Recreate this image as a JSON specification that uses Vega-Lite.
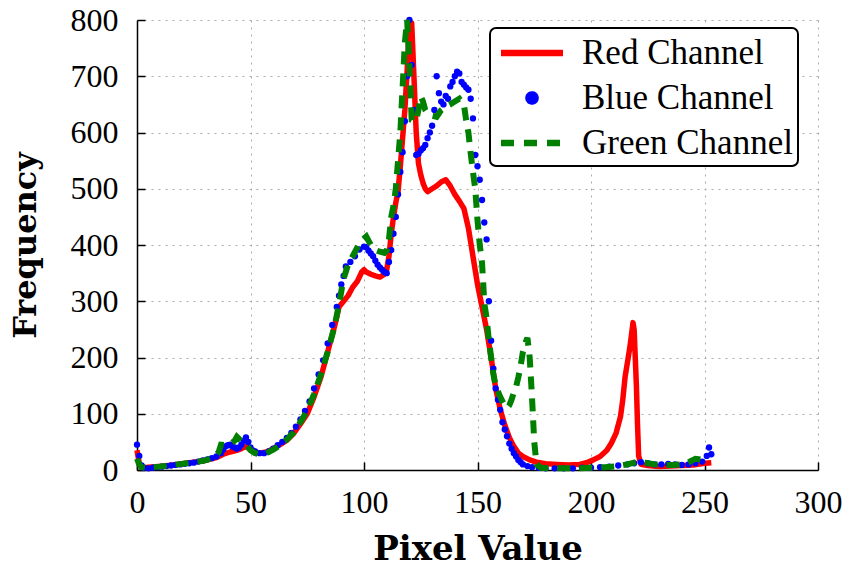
{
"$schema": "https://vega.github.io/schema/vega-lite/v6.json",
"width": 681, "height": 450,
"autosize": {"type": "none"},
"padding": {"left": 137, "top": 20, "right": 31, "bottom": 97},
"background": "white",
"config": {
  "view": {"stroke": null},
  "axis": {"domainColor": "black", "domainWidth": 1.5, "tickColor": "black", "tickWidth": 1.5, "tickSize": -8, "labelFlush": false,
    "labelFont": "Liberation Serif", "labelFontSize": 32, "labelColor": "black",
    "titleFont": "DejaVu Serif", "titleFontWeight": "bold", "titleColor": "black",
    "gridColor": "#aaaaaa", "gridDash": [2, 5], "gridWidth": 1}
},
"data": {"values": [
{"c":"Red Channel","x":0,"y":35},{"c":"Red Channel","x":1,"y":12},{"c":"Red Channel","x":2,"y":5},{"c":"Red Channel","x":3,"y":4},{"c":"Red Channel","x":5,"y":5},{"c":"Red Channel","x":8,"y":6},{"c":"Red Channel","x":12,"y":7},{"c":"Red Channel","x":16,"y":9},{"c":"Red Channel","x":20,"y":11},{"c":"Red Channel","x":25,"y":14},{"c":"Red Channel","x":30,"y":17},{"c":"Red Channel","x":35,"y":22},{"c":"Red Channel","x":38,"y":28},{"c":"Red Channel","x":41,"y":32},{"c":"Red Channel","x":44,"y":35},{"c":"Red Channel","x":46,"y":38},{"c":"Red Channel","x":48,"y":42},{"c":"Red Channel","x":50,"y":36},{"c":"Red Channel","x":52,"y":32},{"c":"Red Channel","x":54,"y":30},{"c":"Red Channel","x":57,"y":32},{"c":"Red Channel","x":60,"y":38},{"c":"Red Channel","x":63,"y":45},{"c":"Red Channel","x":66,"y":53},{"c":"Red Channel","x":69,"y":65},{"c":"Red Channel","x":72,"y":82},{"c":"Red Channel","x":75,"y":100},{"c":"Red Channel","x":78,"y":130},{"c":"Red Channel","x":81,"y":165},{"c":"Red Channel","x":84,"y":210},{"c":"Red Channel","x":87,"y":255},{"c":"Red Channel","x":89,"y":290},{"c":"Red Channel","x":91,"y":300},{"c":"Red Channel","x":93,"y":310},{"c":"Red Channel","x":95,"y":325},{"c":"Red Channel","x":97,"y":335},{"c":"Red Channel","x":99,"y":352},{"c":"Red Channel","x":100,"y":356},{"c":"Red Channel","x":101,"y":352},{"c":"Red Channel","x":103,"y":348},{"c":"Red Channel","x":105,"y":345},{"c":"Red Channel","x":107,"y":343},{"c":"Red Channel","x":109,"y":348},{"c":"Red Channel","x":110,"y":356},{"c":"Red Channel","x":111,"y":380},{"c":"Red Channel","x":112,"y":420},{"c":"Red Channel","x":113,"y":450},{"c":"Red Channel","x":114,"y":475},{"c":"Red Channel","x":115,"y":495},{"c":"Red Channel","x":116,"y":540},{"c":"Red Channel","x":117,"y":590},{"c":"Red Channel","x":118,"y":640},{"c":"Red Channel","x":119,"y":710},{"c":"Red Channel","x":120,"y":790},{"c":"Red Channel","x":121,"y":795},{"c":"Red Channel","x":122,"y":700},{"c":"Red Channel","x":123,"y":600},{"c":"Red Channel","x":124,"y":545},{"c":"Red Channel","x":125,"y":525},{"c":"Red Channel","x":126,"y":510},{"c":"Red Channel","x":127,"y":500},{"c":"Red Channel","x":128,"y":495},{"c":"Red Channel","x":130,"y":500},{"c":"Red Channel","x":132,"y":505},{"c":"Red Channel","x":134,"y":512},{"c":"Red Channel","x":136,"y":516},{"c":"Red Channel","x":138,"y":505},{"c":"Red Channel","x":140,"y":490},{"c":"Red Channel","x":142,"y":478},{"c":"Red Channel","x":144,"y":465},{"c":"Red Channel","x":146,"y":430},{"c":"Red Channel","x":148,"y":380},{"c":"Red Channel","x":150,"y":330},{"c":"Red Channel","x":152,"y":290},{"c":"Red Channel","x":154,"y":250},{"c":"Red Channel","x":156,"y":200},{"c":"Red Channel","x":158,"y":145},{"c":"Red Channel","x":160,"y":108},{"c":"Red Channel","x":162,"y":80},{"c":"Red Channel","x":164,"y":58},{"c":"Red Channel","x":166,"y":42},{"c":"Red Channel","x":168,"y":30},{"c":"Red Channel","x":170,"y":24},{"c":"Red Channel","x":173,"y":18},{"c":"Red Channel","x":176,"y":14},{"c":"Red Channel","x":180,"y":11},{"c":"Red Channel","x":185,"y":10},{"c":"Red Channel","x":190,"y":9},{"c":"Red Channel","x":195,"y":10},{"c":"Red Channel","x":198,"y":13},{"c":"Red Channel","x":201,"y":18},{"c":"Red Channel","x":204,"y":24},{"c":"Red Channel","x":207,"y":35},{"c":"Red Channel","x":209,"y":48},{"c":"Red Channel","x":211,"y":65},{"c":"Red Channel","x":213,"y":95},{"c":"Red Channel","x":214,"y":125},{"c":"Red Channel","x":215,"y":165},{"c":"Red Channel","x":216,"y":190},{"c":"Red Channel","x":217,"y":215},{"c":"Red Channel","x":218,"y":245},{"c":"Red Channel","x":218.5,"y":262},{"c":"Red Channel","x":219,"y":250},{"c":"Red Channel","x":219.5,"y":200},{"c":"Red Channel","x":220,"y":150},{"c":"Red Channel","x":220.5,"y":80},{"c":"Red Channel","x":221,"y":25},{"c":"Red Channel","x":222,"y":10},{"c":"Red Channel","x":225,"y":8},{"c":"Red Channel","x":230,"y":6},{"c":"Red Channel","x":235,"y":7},{"c":"Red Channel","x":240,"y":8},{"c":"Red Channel","x":245,"y":9},{"c":"Red Channel","x":250,"y":12},{"c":"Red Channel","x":253,"y":13},
{"c":"Blue Channel","x":0,"y":45},{"c":"Blue Channel","x":1,"y":25},{"c":"Blue Channel","x":2,"y":8},{"c":"Blue Channel","x":3,"y":4},{"c":"Blue Channel","x":5,"y":3},{"c":"Blue Channel","x":7,"y":4},{"c":"Blue Channel","x":9,"y":5},{"c":"Blue Channel","x":11,"y":6},{"c":"Blue Channel","x":13,"y":7},{"c":"Blue Channel","x":15,"y":8},{"c":"Blue Channel","x":17,"y":9},{"c":"Blue Channel","x":19,"y":10},{"c":"Blue Channel","x":21,"y":11},{"c":"Blue Channel","x":23,"y":12},{"c":"Blue Channel","x":25,"y":13},{"c":"Blue Channel","x":27,"y":15},{"c":"Blue Channel","x":29,"y":17},{"c":"Blue Channel","x":31,"y":19},{"c":"Blue Channel","x":33,"y":21},{"c":"Blue Channel","x":35,"y":24},{"c":"Blue Channel","x":37,"y":30},{"c":"Blue Channel","x":38,"y":36},{"c":"Blue Channel","x":39,"y":42},{"c":"Blue Channel","x":40,"y":44},{"c":"Blue Channel","x":41,"y":45},{"c":"Blue Channel","x":42,"y":42},{"c":"Blue Channel","x":43,"y":40},{"c":"Blue Channel","x":44,"y":38},{"c":"Blue Channel","x":45,"y":40},{"c":"Blue Channel","x":46,"y":45},{"c":"Blue Channel","x":47,"y":52},{"c":"Blue Channel","x":48,"y":58},{"c":"Blue Channel","x":49,"y":50},{"c":"Blue Channel","x":50,"y":40},{"c":"Blue Channel","x":51,"y":35},{"c":"Blue Channel","x":52,"y":33},{"c":"Blue Channel","x":54,"y":30},{"c":"Blue Channel","x":56,"y":30},{"c":"Blue Channel","x":58,"y":33},{"c":"Blue Channel","x":60,"y":38},{"c":"Blue Channel","x":62,"y":44},{"c":"Blue Channel","x":64,"y":50},{"c":"Blue Channel","x":66,"y":57},{"c":"Blue Channel","x":68,"y":66},{"c":"Blue Channel","x":70,"y":77},{"c":"Blue Channel","x":72,"y":90},{"c":"Blue Channel","x":74,"y":105},{"c":"Blue Channel","x":76,"y":122},{"c":"Blue Channel","x":78,"y":145},{"c":"Blue Channel","x":80,"y":170},{"c":"Blue Channel","x":82,"y":195},{"c":"Blue Channel","x":84,"y":225},{"c":"Blue Channel","x":86,"y":258},{"c":"Blue Channel","x":88,"y":290},{"c":"Blue Channel","x":89,"y":310},{"c":"Blue Channel","x":90,"y":330},{"c":"Blue Channel","x":91,"y":345},{"c":"Blue Channel","x":92,"y":362},{"c":"Blue Channel","x":94,"y":370},{"c":"Blue Channel","x":96,"y":380},{"c":"Blue Channel","x":98,"y":392},{"c":"Blue Channel","x":100,"y":397},{"c":"Blue Channel","x":101,"y":396},{"c":"Blue Channel","x":102,"y":390},{"c":"Blue Channel","x":103,"y":385},{"c":"Blue Channel","x":104,"y":380},{"c":"Blue Channel","x":105,"y":372},{"c":"Blue Channel","x":106,"y":365},{"c":"Blue Channel","x":107,"y":360},{"c":"Blue Channel","x":108,"y":356},{"c":"Blue Channel","x":109,"y":352},{"c":"Blue Channel","x":110,"y":350},{"c":"Blue Channel","x":111,"y":370},{"c":"Blue Channel","x":112,"y":391},{"c":"Blue Channel","x":113,"y":420},{"c":"Blue Channel","x":114,"y":450},{"c":"Blue Channel","x":115,"y":490},{"c":"Blue Channel","x":116,"y":530},{"c":"Blue Channel","x":117,"y":565},{"c":"Blue Channel","x":118,"y":620},{"c":"Blue Channel","x":119,"y":700},{"c":"Blue Channel","x":120,"y":800},{"c":"Blue Channel","x":121,"y":720},{"c":"Blue Channel","x":122,"y":640},{"c":"Blue Channel","x":123,"y":560},{"c":"Blue Channel","x":124,"y":562},{"c":"Blue Channel","x":125,"y":568},{"c":"Blue Channel","x":126,"y":572},{"c":"Blue Channel","x":127,"y":578},{"c":"Blue Channel","x":128,"y":590},{"c":"Blue Channel","x":129,"y":600},{"c":"Blue Channel","x":130,"y":612},{"c":"Blue Channel","x":131,"y":640},{"c":"Blue Channel","x":132,"y":700},{"c":"Blue Channel","x":133,"y":670},{"c":"Blue Channel","x":134,"y":655},{"c":"Blue Channel","x":135,"y":650},{"c":"Blue Channel","x":136,"y":665},{"c":"Blue Channel","x":137,"y":660},{"c":"Blue Channel","x":138,"y":682},{"c":"Blue Channel","x":139,"y":690},{"c":"Blue Channel","x":140,"y":700},{"c":"Blue Channel","x":141,"y":708},{"c":"Blue Channel","x":142,"y":705},{"c":"Blue Channel","x":143,"y":690},{"c":"Blue Channel","x":144,"y":685},{"c":"Blue Channel","x":145,"y":680},{"c":"Blue Channel","x":146,"y":676},{"c":"Blue Channel","x":147,"y":660},{"c":"Blue Channel","x":148,"y":625},{"c":"Blue Channel","x":149,"y":560},{"c":"Blue Channel","x":150,"y":540},{"c":"Blue Channel","x":151,"y":516},{"c":"Blue Channel","x":152,"y":480},{"c":"Blue Channel","x":153,"y":440},{"c":"Blue Channel","x":154,"y":410},{"c":"Blue Channel","x":155,"y":300},{"c":"Blue Channel","x":156,"y":230},{"c":"Blue Channel","x":157,"y":180},{"c":"Blue Channel","x":158,"y":145},{"c":"Blue Channel","x":159,"y":125},{"c":"Blue Channel","x":160,"y":107},{"c":"Blue Channel","x":161,"y":85},{"c":"Blue Channel","x":162,"y":72},{"c":"Blue Channel","x":163,"y":60},{"c":"Blue Channel","x":164,"y":47},{"c":"Blue Channel","x":165,"y":38},{"c":"Blue Channel","x":166,"y":30},{"c":"Blue Channel","x":167,"y":24},{"c":"Blue Channel","x":168,"y":18},{"c":"Blue Channel","x":169,"y":14},{"c":"Blue Channel","x":170,"y":10},{"c":"Blue Channel","x":172,"y":7},{"c":"Blue Channel","x":174,"y":5},{"c":"Blue Channel","x":177,"y":4},{"c":"Blue Channel","x":180,"y":3},{"c":"Blue Channel","x":184,"y":3},{"c":"Blue Channel","x":188,"y":3},{"c":"Blue Channel","x":192,"y":3},{"c":"Blue Channel","x":196,"y":4},{"c":"Blue Channel","x":200,"y":4},{"c":"Blue Channel","x":204,"y":5},{"c":"Blue Channel","x":208,"y":6},{"c":"Blue Channel","x":212,"y":8},{"c":"Blue Channel","x":216,"y":10},{"c":"Blue Channel","x":219,"y":12},{"c":"Blue Channel","x":222,"y":14},{"c":"Blue Channel","x":225,"y":12},{"c":"Blue Channel","x":228,"y":10},{"c":"Blue Channel","x":231,"y":10},{"c":"Blue Channel","x":234,"y":11},{"c":"Blue Channel","x":237,"y":10},{"c":"Blue Channel","x":240,"y":9},{"c":"Blue Channel","x":243,"y":10},{"c":"Blue Channel","x":246,"y":12},{"c":"Blue Channel","x":249,"y":15},{"c":"Blue Channel","x":251,"y":25},{"c":"Blue Channel","x":252,"y":40},{"c":"Blue Channel","x":253,"y":28},
{"c":"Green Channel","x":0,"y":20},{"c":"Green Channel","x":1,"y":10},{"c":"Green Channel","x":2,"y":5},{"c":"Green Channel","x":4,"y":4},{"c":"Green Channel","x":7,"y":5},{"c":"Green Channel","x":10,"y":6},{"c":"Green Channel","x":14,"y":8},{"c":"Green Channel","x":18,"y":10},{"c":"Green Channel","x":22,"y":12},{"c":"Green Channel","x":26,"y":14},{"c":"Green Channel","x":30,"y":17},{"c":"Green Channel","x":34,"y":22},{"c":"Green Channel","x":36,"y":32},{"c":"Green Channel","x":37,"y":45},{"c":"Green Channel","x":39,"y":44},{"c":"Green Channel","x":41,"y":46},{"c":"Green Channel","x":43,"y":52},{"c":"Green Channel","x":44,"y":59},{"c":"Green Channel","x":45,"y":55},{"c":"Green Channel","x":46,"y":50},{"c":"Green Channel","x":48,"y":45},{"c":"Green Channel","x":50,"y":35},{"c":"Green Channel","x":52,"y":30},{"c":"Green Channel","x":54,"y":28},{"c":"Green Channel","x":57,"y":30},{"c":"Green Channel","x":60,"y":36},{"c":"Green Channel","x":63,"y":44},{"c":"Green Channel","x":66,"y":54},{"c":"Green Channel","x":69,"y":67},{"c":"Green Channel","x":72,"y":85},{"c":"Green Channel","x":75,"y":106},{"c":"Green Channel","x":78,"y":135},{"c":"Green Channel","x":81,"y":170},{"c":"Green Channel","x":84,"y":210},{"c":"Green Channel","x":87,"y":255},{"c":"Green Channel","x":89,"y":295},{"c":"Green Channel","x":91,"y":340},{"c":"Green Channel","x":93,"y":365},{"c":"Green Channel","x":95,"y":380},{"c":"Green Channel","x":97,"y":395},{"c":"Green Channel","x":99,"y":408},{"c":"Green Channel","x":101,"y":415},{"c":"Green Channel","x":103,"y":400},{"c":"Green Channel","x":105,"y":391},{"c":"Green Channel","x":107,"y":388},{"c":"Green Channel","x":109,"y":386},{"c":"Green Channel","x":110,"y":390},{"c":"Green Channel","x":111,"y":410},{"c":"Green Channel","x":112,"y":450},{"c":"Green Channel","x":113,"y":470},{"c":"Green Channel","x":114,"y":500},{"c":"Green Channel","x":115,"y":550},{"c":"Green Channel","x":116,"y":600},{"c":"Green Channel","x":117,"y":680},{"c":"Green Channel","x":118,"y":760},{"c":"Green Channel","x":119,"y":800},{"c":"Green Channel","x":120,"y":720},{"c":"Green Channel","x":121,"y":622},{"c":"Green Channel","x":122,"y":620},{"c":"Green Channel","x":123,"y":622},{"c":"Green Channel","x":124,"y":640},{"c":"Green Channel","x":125,"y":664},{"c":"Green Channel","x":126,"y":655},{"c":"Green Channel","x":127,"y":640},{"c":"Green Channel","x":128,"y":634},{"c":"Green Channel","x":130,"y":630},{"c":"Green Channel","x":132,"y":628},{"c":"Green Channel","x":134,"y":640},{"c":"Green Channel","x":136,"y":646},{"c":"Green Channel","x":138,"y":650},{"c":"Green Channel","x":140,"y":655},{"c":"Green Channel","x":142,"y":660},{"c":"Green Channel","x":144,"y":650},{"c":"Green Channel","x":145,"y":622},{"c":"Green Channel","x":146,"y":600},{"c":"Green Channel","x":147,"y":563},{"c":"Green Channel","x":148,"y":530},{"c":"Green Channel","x":149,"y":500},{"c":"Green Channel","x":150,"y":444},{"c":"Green Channel","x":151,"y":400},{"c":"Green Channel","x":152,"y":368},{"c":"Green Channel","x":153,"y":297},{"c":"Green Channel","x":154,"y":270},{"c":"Green Channel","x":155,"y":231},{"c":"Green Channel","x":156,"y":200},{"c":"Green Channel","x":157,"y":170},{"c":"Green Channel","x":158,"y":150},{"c":"Green Channel","x":159,"y":140},{"c":"Green Channel","x":160,"y":130},{"c":"Green Channel","x":161,"y":122},{"c":"Green Channel","x":162,"y":115},{"c":"Green Channel","x":163,"y":110},{"c":"Green Channel","x":164,"y":115},{"c":"Green Channel","x":165,"y":125},{"c":"Green Channel","x":166,"y":138},{"c":"Green Channel","x":167,"y":148},{"c":"Green Channel","x":168,"y":165},{"c":"Green Channel","x":169,"y":185},{"c":"Green Channel","x":170,"y":210},{"c":"Green Channel","x":171,"y":225},{"c":"Green Channel","x":172,"y":235},{"c":"Green Channel","x":173,"y":200},{"c":"Green Channel","x":174,"y":130},{"c":"Green Channel","x":175,"y":50},{"c":"Green Channel","x":176,"y":10},{"c":"Green Channel","x":178,"y":4},{"c":"Green Channel","x":182,"y":3},{"c":"Green Channel","x":188,"y":3},{"c":"Green Channel","x":194,"y":3},{"c":"Green Channel","x":200,"y":4},{"c":"Green Channel","x":206,"y":5},{"c":"Green Channel","x":212,"y":7},{"c":"Green Channel","x":216,"y":10},{"c":"Green Channel","x":220,"y":14},{"c":"Green Channel","x":224,"y":13},{"c":"Green Channel","x":228,"y":10},{"c":"Green Channel","x":232,"y":9},{"c":"Green Channel","x":236,"y":9},{"c":"Green Channel","x":240,"y":10},{"c":"Green Channel","x":243,"y":14},{"c":"Green Channel","x":246,"y":20},{"c":"Green Channel","x":249,"y":18},{"c":"Green Channel","x":251,"y":15}
]},
"encoding": {
  "x": {"field": "x", "type": "quantitative", "scale": {"domain": [0, 300], "nice": false},
    "axis": {"values": [0, 50, 100, 150, 200, 250, 300], "title": "Pixel Value", "labelPadding": 25, "titlePadding": 14, "titleFontSize": 34, "grid": true}},
  "y": {"field": "y", "type": "quantitative", "scale": {"domain": [0, 800], "nice": false},
    "axis": {"values": [0, 100, 200, 300, 400, 500, 600, 700, 800], "title": "Frequency", "labelPadding": 27, "titlePadding": 28, "titleFontSize": 32, "grid": true}},
  "color": {"field": "c", "type": "nominal",
    "scale": {"domain": ["Red Channel", "Blue Channel", "Green Channel"], "range": ["#ff0000", "#0000ff", "#008000"]},
    "legend": {"orient": "none", "legendX": 353, "legendY": 8, "title": null,
      "labelFont": "Liberation Serif", "labelFontSize": 35, "labelColor": "black", "labelOffset": 47, "labelLimit": 400,
      "symbolSize": 1089, "symbolType": "stroke", "symbolStrokeWidth": 6.5, "padding": 5, "rowPadding": 7,
      "strokeColor": "black", "fillColor": "white", "cornerRadius": 6,
      "encode": {
        "legend": {"update": {"strokeWidth": {"value": 2}}},
        "symbols": {"update": {
          "x": {"value": 37},
          "shape": {"signal": "datum.value === 'Blue Channel' ? 'circle' : 'M-1.88,0H1.88'"},
          "size": {"signal": "datum.value === 'Blue Channel' ? 50 : 1089"},
          "fill": {"signal": "datum.value === 'Blue Channel' ? '#0000ff' : 'transparent'"},
          "stroke": {"signal": "datum.value === 'Red Channel' ? '#ff0000' : (datum.value === 'Green Channel' ? '#008000' : 'transparent')"},
          "strokeDash": {"signal": "datum.value === 'Green Channel' ? [13, 10] : [1, 0]"},
          "strokeWidth": {"value": 6.5},
          "opacity": {"value": 1}
        }}
      }}
  }
},
"layer": [
  {"transform": [{"filter": "datum.c === 'Red Channel'"}], "mark": {"type": "line", "strokeWidth": 5.5, "strokeJoin": "round"}},
  {"transform": [{"filter": "datum.c === 'Blue Channel'"}], "mark": {"type": "point", "filled": true, "size": 40, "opacity": 1}},
  {"transform": [{"filter": "datum.c === 'Green Channel'"}], "mark": {"type": "line", "strokeWidth": 6, "strokeDash": [13, 9]}}
]
}
